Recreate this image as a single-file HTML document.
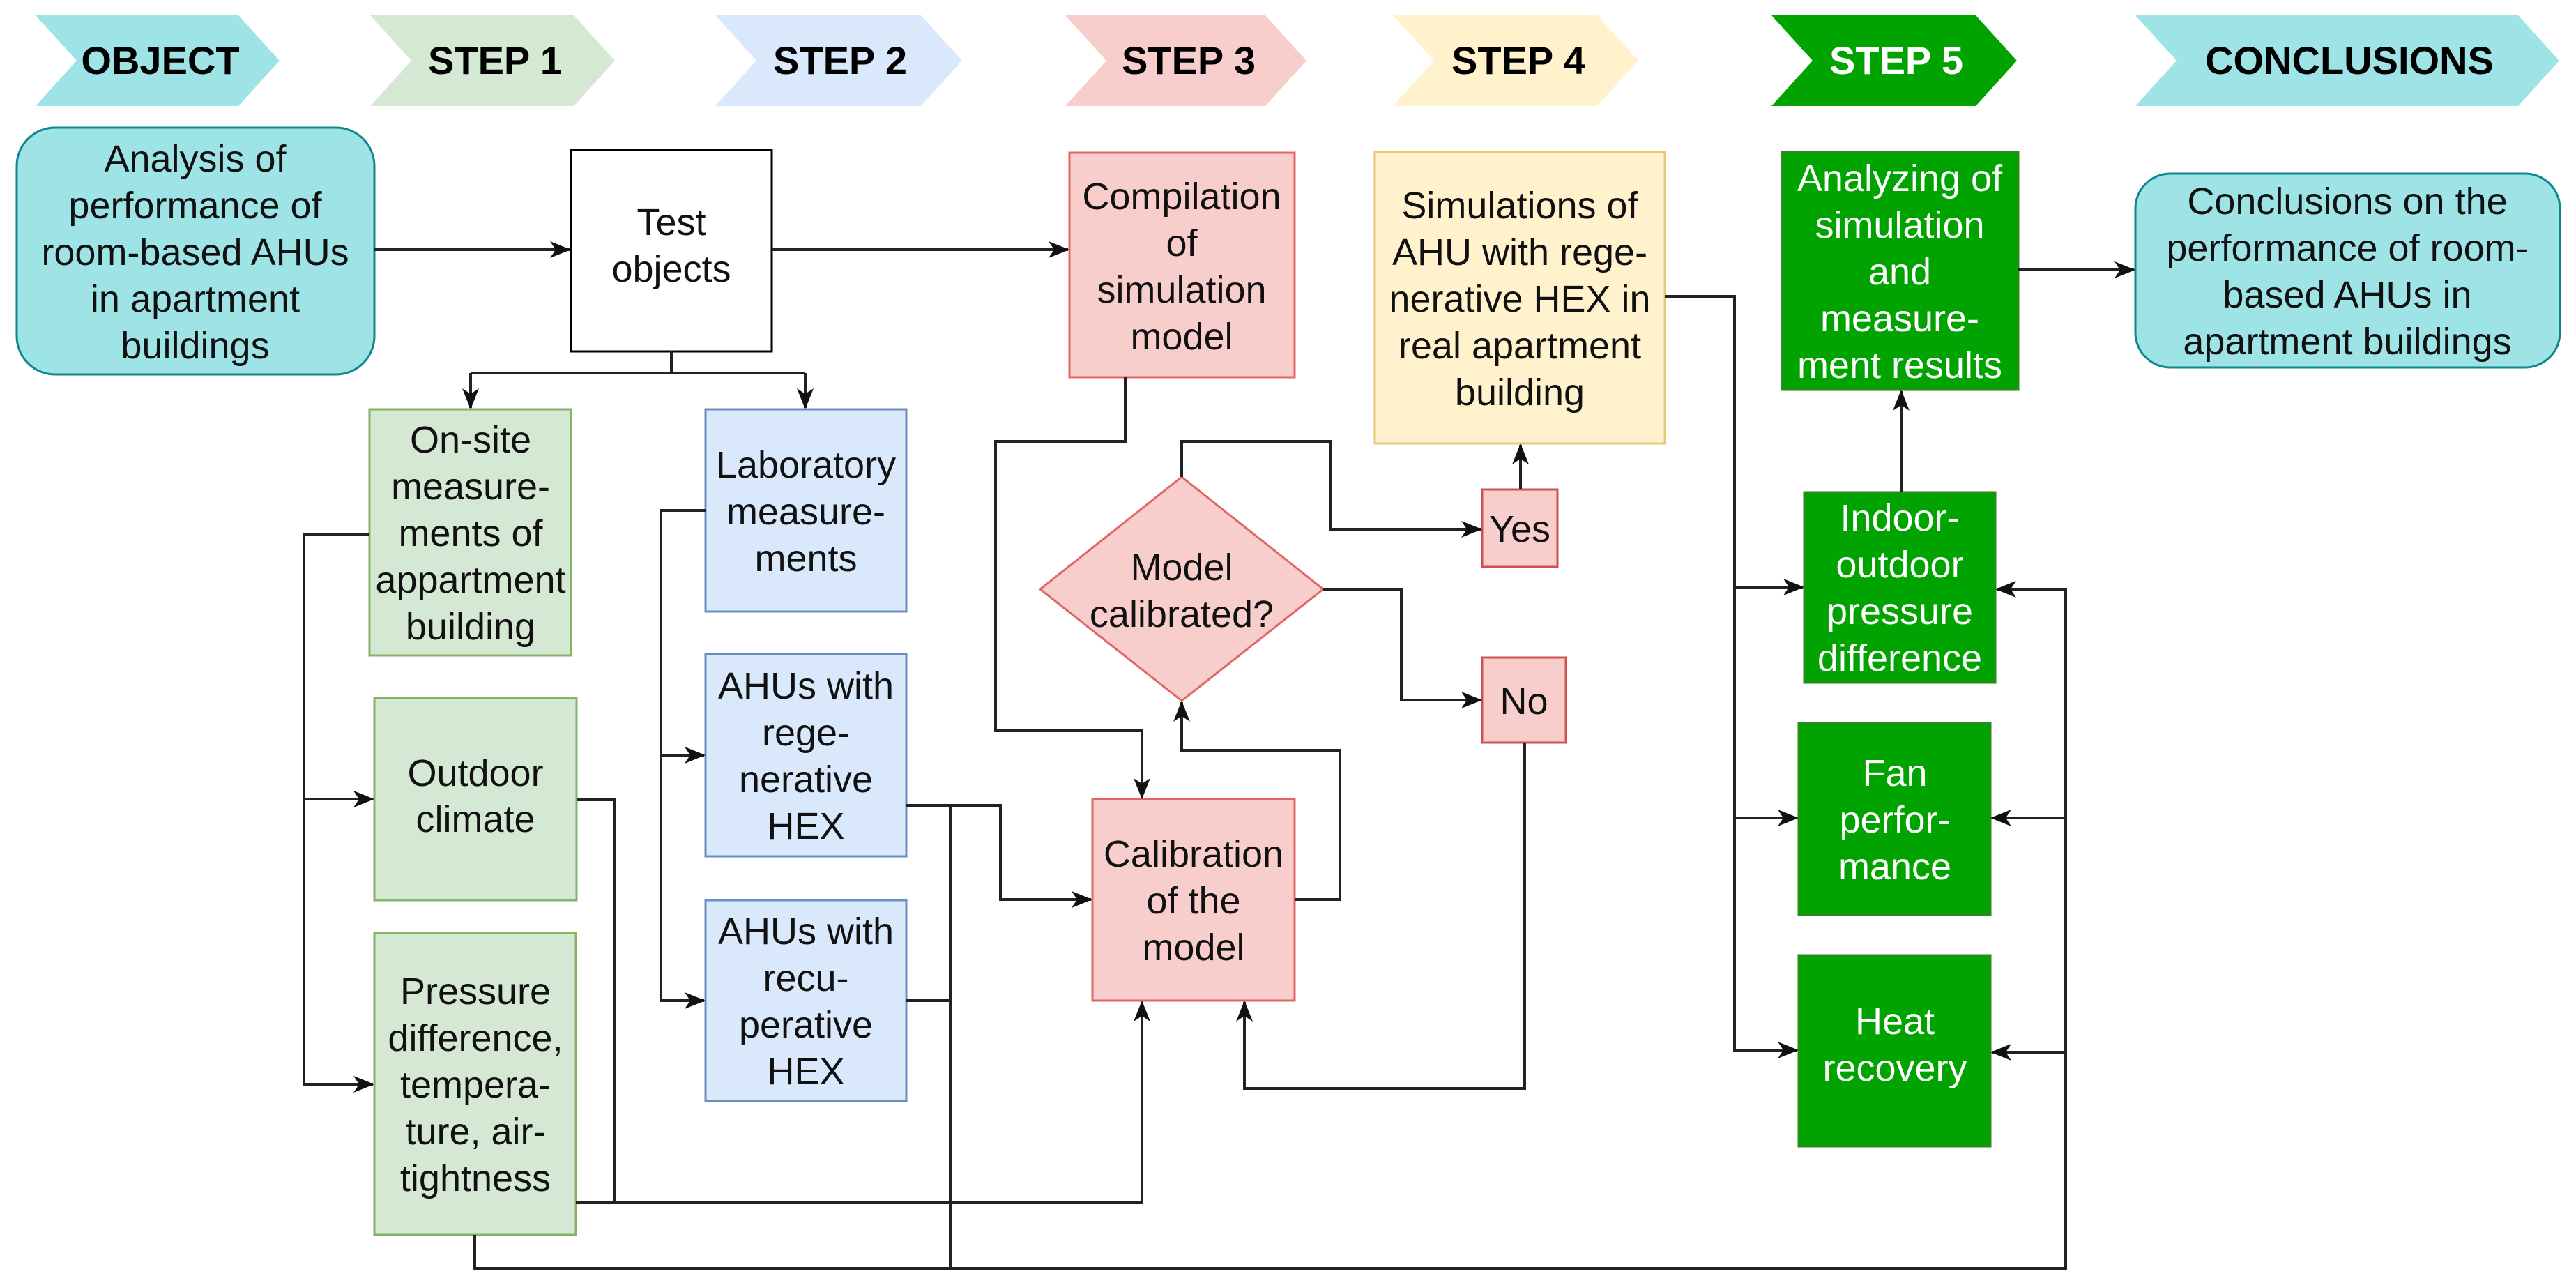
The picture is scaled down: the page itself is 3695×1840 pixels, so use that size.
<!DOCTYPE html>
<html><head><meta charset="utf-8"><style>html,body{margin:0;padding:0;background:#fff}svg{display:block}</style></head><body>
<svg xmlns="http://www.w3.org/2000/svg" width="3695" height="1840" viewBox="0 0 3695 1840">
<defs>
<marker id="a" viewBox="0 0 30 24" refX="28" refY="12" markerWidth="30" markerHeight="24" markerUnits="userSpaceOnUse" orient="auto">
<path d="M0,0 L30,12 L0,24 L8,12 Z" fill="#111"/>
</marker>
</defs>
<g font-family="Liberation Sans, Arial, sans-serif" font-weight="bold" font-size="56" text-anchor="middle">
<polygon points="51,22 342,22 401,87 342,152 51,152 110,87" fill="#9ee3e6"/>
<text x="230" y="106">OBJECT</text>
<polygon points="531,22 823,22 882,87 823,152 531,152 590,87" fill="#d5e8d4"/>
<text x="710" y="106">STEP 1</text>
<polygon points="1026,22 1321,22 1380,87 1321,152 1026,152 1085,87" fill="#dae8fc"/>
<text x="1205" y="106">STEP 2</text>
<polygon points="1528,22 1815,22 1874,87 1815,152 1528,152 1587,87" fill="#f8cecc"/>
<text x="1705" y="106">STEP 3</text>
<polygon points="1998,22 2291,22 2350,87 2291,152 1998,152 2057,87" fill="#fff2cc"/>
<text x="2178" y="106">STEP 4</text>
<polygon points="2541,22 2834,22 2893,87 2834,152 2541,152 2600,87" fill="#00a300"/>
<text x="2720" y="106" fill="#fff">STEP 5</text>
<polygon points="3063,22 3612,22 3671,87 3612,152 3063,152 3122,87" fill="#9ee3e6"/>
<text x="3370" y="106">CONCLUSIONS</text>
</g>

<g stroke-width="3">
<rect x="24" y="183" width="513" height="354" rx="55" fill="#9ee3e6" stroke="#10868e"/>
<rect x="819" y="215" width="288" height="289" fill="#fff" stroke="#000"/>
<rect x="1534" y="219" width="323" height="322" fill="#f8cecc" stroke="#e06666"/>
<rect x="530" y="587" width="289" height="353" fill="#d5e8d4" stroke="#82b366"/>
<rect x="1012" y="587" width="288" height="290" fill="#dae8fc" stroke="#6c8ebf"/>
<rect x="537" y="1001" width="290" height="290" fill="#d5e8d4" stroke="#82b366"/>
<rect x="537" y="1338" width="289" height="433" fill="#d5e8d4" stroke="#82b366"/>
<rect x="1012" y="938" width="288" height="290" fill="#dae8fc" stroke="#6c8ebf"/>
<rect x="1012" y="1291" width="288" height="288" fill="#dae8fc" stroke="#6c8ebf"/>
<rect x="1567" y="1146" width="290" height="289" fill="#f8cecc" stroke="#e06666"/>
<polygon points="1695,684 1898,845 1695,1005 1492,845" fill="#f8cecc" stroke="#e06666"/>
<rect x="2126" y="702" width="108" height="111" fill="#f8cecc" stroke="#d05050"/>
<rect x="2126" y="943" width="120" height="122" fill="#f8cecc" stroke="#d05050"/>
<rect x="1972" y="218" width="416" height="418" fill="#fff2cc" stroke="#e8c878"/>
<rect x="2556" y="218" width="339" height="341" fill="#00a300" stroke="#2d8a1e"/>
<rect x="3063" y="249" width="609" height="278" rx="50" fill="#9ee3e6" stroke="#10868e"/>
<rect x="2588" y="706" width="274" height="273" fill="#00a300" stroke="#2d8a1e"/>
<rect x="2580" y="1037" width="275" height="275" fill="#00a300" stroke="#2d8a1e"/>
<rect x="2580" y="1370" width="275" height="274" fill="#00a300" stroke="#2d8a1e"/>
</g>

<g fill="none" stroke="#222" stroke-width="4">
<path d="M537,358 H817" marker-end="url(#a)"/>
<path d="M1107,358 H1532" marker-end="url(#a)"/>
<path d="M2895,387 H3061" marker-end="url(#a)"/>
<path d="M963,504 V535"/>
<path d="M675,535 H1155"/>
<path d="M675,535 V585" marker-end="url(#a)"/>
<path d="M1155,535 V585" marker-end="url(#a)"/>
<path d="M530,766 H436 V1555 H535" marker-end="url(#a)"/>
<path d="M436,1146 H535" marker-end="url(#a)"/>
<path d="M1012,732 H948 V1435 H1010" marker-end="url(#a)"/>
<path d="M948,1083 H1010" marker-end="url(#a)"/>
<path d="M1614,541 V633 H1428 V1048 H1638 V1144" marker-end="url(#a)"/>
<path d="M1695,684 V633 H1908 V759 H2124" marker-end="url(#a)"/>
<path d="M1898,845 H2010 V1004 H2124" marker-end="url(#a)"/>
<path d="M2181,702 V638" marker-end="url(#a)"/>
<path d="M2187,1065 V1561 H1785 V1437" marker-end="url(#a)"/>
<path d="M1857,1290 H1922 V1076 H1695 V1007" marker-end="url(#a)"/>
<path d="M1300,1155 H1435 V1290 H1565" marker-end="url(#a)"/>
<path d="M1300,1155 H1363 V1819"/>
<path d="M1300,1435 H1363"/>
<path d="M827,1147 H882 V1724"/>
<path d="M826,1724 H1638 V1437" marker-end="url(#a)"/>
<path d="M681,1771 V1819 H2963 V845 H2864" marker-end="url(#a)"/>
<path d="M2963,1173 H2857" marker-end="url(#a)"/>
<path d="M2963,1509 H2857" marker-end="url(#a)"/>
<path d="M2388,425 H2488 V1506 H2578" marker-end="url(#a)"/>
<path d="M2488,842 H2586" marker-end="url(#a)"/>
<path d="M2488,1173 H2578" marker-end="url(#a)"/>
<path d="M2727,706 V561" marker-end="url(#a)"/>
</g>

<g font-family="Liberation Sans, Arial, sans-serif" font-size="54" text-anchor="middle" fill="#111">
<text x="280"><tspan x="280" y="246">Analysis of</tspan><tspan x="280" y="313">performance of</tspan><tspan x="280" y="380">room-based AHUs</tspan><tspan x="280" y="447">in apartment</tspan><tspan x="280" y="514">buildings</tspan></text>
<text><tspan x="963" y="337">Test</tspan><tspan x="963" y="404">objects</tspan></text>
<text><tspan x="1695" y="300">Compilation</tspan><tspan x="1695" y="367">of</tspan><tspan x="1695" y="434">simulation</tspan><tspan x="1695" y="501">model</tspan></text>
<text><tspan x="675" y="649">On-site</tspan><tspan x="675" y="716">measure-</tspan><tspan x="675" y="783">ments of</tspan><tspan x="675" y="850">appartment</tspan><tspan x="675" y="917">building</tspan></text>
<text><tspan x="1156" y="685">Laboratory</tspan><tspan x="1156" y="752">measure-</tspan><tspan x="1156" y="819">ments</tspan></text>
<text><tspan x="682" y="1127">Outdoor</tspan><tspan x="682" y="1193">climate</tspan></text>
<text><tspan x="682" y="1440">Pressure</tspan><tspan x="682" y="1507">difference,</tspan><tspan x="682" y="1574">tempera-</tspan><tspan x="682" y="1641">ture, air-</tspan><tspan x="682" y="1708">tightness</tspan></text>
<text><tspan x="1156" y="1002">AHUs with</tspan><tspan x="1156" y="1069">rege-</tspan><tspan x="1156" y="1136">nerative</tspan><tspan x="1156" y="1203">HEX</tspan></text>
<text><tspan x="1156" y="1354">AHUs with</tspan><tspan x="1156" y="1421">recu-</tspan><tspan x="1156" y="1488">perative</tspan><tspan x="1156" y="1555">HEX</tspan></text>
<text><tspan x="1712" y="1243">Calibration</tspan><tspan x="1712" y="1310">of the</tspan><tspan x="1712" y="1377">model</tspan></text>
<text><tspan x="1695" y="832">Model</tspan><tspan x="1695" y="899">calibrated?</tspan></text>
<text x="2180" y="777">Yes</text>
<text x="2186" y="1024">No</text>
<text><tspan x="2180" y="313">Simulations of</tspan><tspan x="2180" y="380">AHU with rege-</tspan><tspan x="2180" y="447">nerative HEX in</tspan><tspan x="2180" y="514">real apartment</tspan><tspan x="2180" y="581">building</tspan></text>
<text><tspan x="3367" y="307">Conclusions on the</tspan><tspan x="3367" y="374">performance of room-</tspan><tspan x="3367" y="441">based AHUs in</tspan><tspan x="3367" y="508">apartment buildings</tspan></text>
<g fill="#fff">
<text><tspan x="2725" y="274">Analyzing of</tspan><tspan x="2725" y="341">simulation</tspan><tspan x="2725" y="408">and</tspan><tspan x="2725" y="475">measure-</tspan><tspan x="2725" y="542">ment results</tspan></text>
<text><tspan x="2725" y="761">Indoor-</tspan><tspan x="2725" y="828">outdoor</tspan><tspan x="2725" y="895">pressure</tspan><tspan x="2725" y="962">difference</tspan></text>
<text><tspan x="2718" y="1127">Fan</tspan><tspan x="2718" y="1194">perfor-</tspan><tspan x="2718" y="1261">mance</tspan></text>
<text><tspan x="2718" y="1483">Heat</tspan><tspan x="2718" y="1550">recovery</tspan></text>
</g>
</g>
</svg>
</body></html>
